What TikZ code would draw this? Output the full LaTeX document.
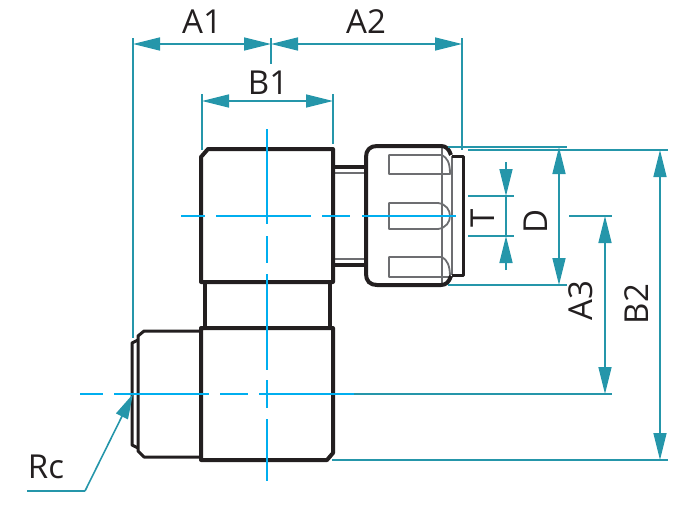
\documentclass[tikz,border=0pt]{standalone}
\usepackage{fontspec}
\setmainfont{Open Sans}
\usetikzlibrary{arrows.meta}
\definecolor{teal1}{HTML}{2596AA}
\definecolor{cyan1}{HTML}{00AEEF}
\definecolor{blk}{HTML}{231F20}
\definecolor{gry}{HTML}{6D6E71}
\tikzset{
  thick line/.style={draw=blk,line width=4pt,line join=round},
  neck line/.style={draw=blk,line width=3.2pt,line join=round},
  thin line/.style={draw=blk,line width=3pt,line join=round},
  gray line/.style={draw=gry,line width=1.8pt,line join=round},
  centre line/.style={draw=cyan1,line width=1.6pt},
  ext line/.style={draw=teal1,line width=1.6pt},
  dim line/.style={draw=teal1,line width=1.6pt,{Triangle[length=27pt,width=13pt,teal1]}-{Triangle[length=27pt,width=13pt,teal1]}},
  one tip/.style={draw=teal1,line width=1.6pt,-{Triangle[length=27pt,width=13pt,teal1]}},
  lab/.style={text=blk,font=\fontsize{33}{33}\selectfont,inner sep=0pt},
}
\begin{document}
\begin{tikzpicture}[x=1pt,y=-1pt]
\useasboundingbox (0,0) rectangle (678,509);
% nut gray details
\draw[gray line] (389,155) -- (442,155) .. controls (447,158) and (450,162) .. (450,174) -- (389,174) -- cycle;
\draw[gray line] (389,203) -- (438,203) .. controls (446,204) and (450,210) .. (450,216) .. controls (450,222) and (446,228) .. (438,229) -- (389,229) -- cycle;
\draw[gray line] (389,257) -- (442,257) .. controls (447,260) and (450,265) .. (450,277) -- (389,277) -- cycle;
\draw[gray line] (442,148) -- (442,284);
\draw[gray line] (452,156) -- (452,275);
\draw[gray line] (335,173) -- (366,173);
\draw[gray line] (335,259) -- (366,259);
% body
\draw[thick line] (208,149) -- (333,149) -- (333,282) -- (201,282) -- (201,157) -- cycle;
\draw[neck line] (205,282) -- (205,328);
\draw[neck line] (330,282) -- (330,328);
\draw[thick line] (201,328) -- (333,328) -- (333,453) -- (327,460) -- (201,460) -- cycle;
\draw[thin line] (201,331) -- (144,331) -- (138,336) -- (138,451) -- (144,457) -- (201,457);
\draw[thin line] (138,340) -- (132,343) -- (132,445) -- (138,448);
% stubs
\draw[thick line] (335,167) -- (365,167);
\draw[thick line] (335,265) -- (365,265);
% nut
\draw[thick line] (451,155) .. controls (449,149) and (446,146) .. (441,146) -- (377,146) .. controls (370,146) and (366,150) .. (366,157) -- (366,274) .. controls (366,281) and (370,285) .. (377,285) -- (441,285) .. controls (446,285) and (449,282) .. (451,276);
\draw[thin line] (452,156) -- (463,156) -- (463,275) -- (452,275);
% centre lines
\draw[centre line] (181,216) -- (205,216) (216,216) -- (311,216) (322,216) -- (350,216) (362,216) -- (456,216);
\draw[centre line] (80,394) -- (103,394) (114,394) -- (209,394) (220,394) -- (248,394) (259,394) -- (354,394);
\draw[centre line] (267,129) -- (267,224) (267,236) -- (267,263) (267,274) -- (267,370) (267,380) -- (267,408) (267,419) -- (267,481);
% extension lines
\coordinate (a1l) at (133,44); \coordinate (a1r) at (271,44); \coordinate (a2r) at (462,44);
\coordinate (b1l) at (202,101); \coordinate (b1r) at (333,101);
\draw[ext line] (133,38) -- (133,338);
\draw[ext line] (271,38) -- (271,64);
\draw[ext line] (462,38) -- (462,150);
\draw[ext line] (202,94) -- (202,150);
\draw[ext line] (333,94) -- (333,144);
\draw[ext line] (448,147) -- (567,147);
\draw[ext line] (468,150) -- (668,150);
\draw[ext line] (448,285) -- (567,285);
\draw[ext line] (468,196) -- (514,196);
\draw[ext line] (468,236) -- (514,236);
\draw[ext line] (569,216) -- (612,216);
\draw[ext line] (354,394) -- (612,394);
\draw[ext line] (332,460) -- (668,460);
% dimension lines
\draw[dim line] (a1l) -- (a1r);
\draw[dim line] (a1r) -- (a2r);
\draw[dim line] (b1l) -- (b1r);
\coordinate (dt) at (559,147); \coordinate (db) at (559,285);
\draw[dim line] (dt) -- (db);
\coordinate (bt) at (660,150); \coordinate (bb) at (660,460);
\draw[dim line] (bt) -- (bb);
\coordinate (at) at (605,216); \coordinate (ab) at (605,394);
\draw[dim line] (at) -- (ab);
\coordinate (t1) at (506,196); \coordinate (t2) at (506,236);
\coordinate (t1e) at (506,162); \coordinate (t2e) at (506,270);
\draw[one tip] (t1e) -- (t1);
\draw[one tip] (t2e) -- (t2);
\draw[ext line] (t1) -- (t2);
% Rc leader
\coordinate (rcs) at (27,491); \coordinate (rcm) at (85,491); \coordinate (rcp) at (133,394);
\draw[draw=teal1,line width=1.8pt] (rcs) -- (rcm);
\draw[draw=teal1,line width=1.6pt,-{Triangle[length=25pt,width=13pt,teal1]}] (rcm) -- (rcp);
% labels
\node[lab] (la1) at (202,22) {A1};
\node[lab] (la2) at (366,22) {A2};
\node[lab] (lb1) at (268,83) {B1};
\node[lab] (lrc) at (46,467) {Rc};
\node[lab,rotate=90] (lt) at (483,218) {T};
\node[lab,rotate=90] (ld) at (536,221) {D};
\node[lab,rotate=90] (la3) at (581,301) {A3};
\node[lab,rotate=90] (lb2) at (637,304) {B2};
\end{tikzpicture}
\end{document}
